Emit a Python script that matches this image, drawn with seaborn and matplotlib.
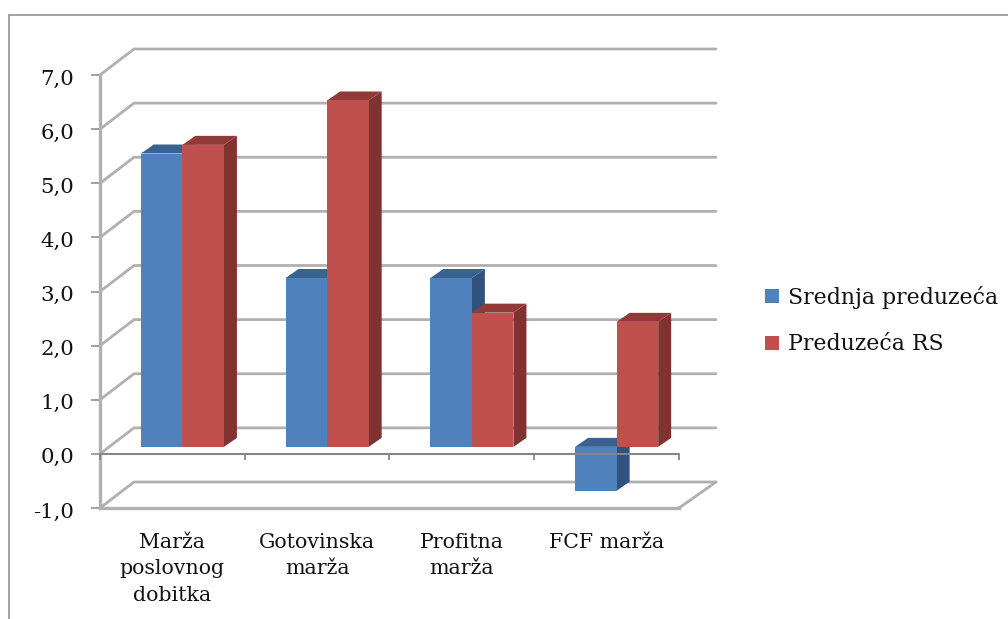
import matplotlib
matplotlib.use("Agg")
import matplotlib.pyplot as plt
import pandas as pd
import seaborn as sns
from matplotlib.lines import Line2D
from matplotlib.patches import Polygon
from matplotlib.transforms import Affine2D, offset_copy

categories = ["Marža\nposlovnog\ndobitka", "Gotovinska\nmarža", "Profitna\nmarža", "FCF marža"]
series_names = ["Srednja preduzeća", "Preduzeća RS"]
srednja = [5.42, 3.12, 3.12, -0.81]
preduzeca_rs = [5.58, 6.40, 2.48, 2.31]
y_ticks = [-1, 0, 1, 2, 3, 4, 5, 6, 7]
y_tick_labels = ["-1,0", "0,0", "1,0", "2,0", "3,0", "4,0", "5,0", "6,0", "7,0"]

W, H = 1008, 619
FONT = "DejaVu Serif"
sns.set_theme(style="white")
plt.rcParams["font.family"] = FONT

fig = plt.figure(figsize=(W / 100, H / 100), dpi=100, facecolor="white")
ax = fig.add_axes([100 / W, (H - 508) / H, 579 / W, 433 / H])

df = pd.DataFrame({
    "category": categories * 2,
    "value": srednja + preduzeca_rs,
    "series": [series_names[0]] * 4 + [series_names[1]] * 4,
})
palette = {series_names[0]: "#4F81BD", series_names[1]: "#C0504D"}
sns.barplot(data=df, x="category", y="value", hue="series", palette=palette,
            width=0.574, gap=0, saturation=1, ax=ax, linewidth=0, zorder=4)

ax.set_xlim(-0.5, 3.5)
ax.set_ylim(-1, 7)
px_x = 579 / 4
px_y = 433 / 8
GRID = "#b0b0b0"

# Back wall lines and floor
wall_dx, wall_dy = 34 / px_x, 26 / px_y
right_end = 3.5 + 37 / px_x
for v in y_ticks:
    ax.plot([-0.5, -0.5 + wall_dx, right_end], [v, v + wall_dy, v + wall_dy],
            color=GRID, lw=2.0, clip_on=False, zorder=1, solid_joinstyle="miter")
ax.plot([3.5, right_end], [-1, -1 + wall_dy], color=GRID, lw=2.0, clip_on=False, zorder=1)

# Bars in depth: front face shifted, side and top faces from each bar's own geometry
shift = offset_copy(ax.transData, fig=fig, x=10, y=7, units="dots")
side_cols = ["#30527E", "#7F3230"]
top_cols = ["#3A6291", "#913B38"]
depth_x, depth_y = 13 / px_x, 9 / px_y
for i, cont in enumerate(ax.containers):
    for p in cont.patches:
        p.set_transform(shift)
        p.set_clip_on(False)
        p.set_zorder(4 + 2 * i)
        x0, x1 = p.get_x(), p.get_x() + p.get_width()
        y0, y1 = sorted((p.get_y(), p.get_y() + p.get_height()))
        ax.add_patch(Polygon([(x1, y0), (x1 + depth_x, y0 + depth_y), (x1 + depth_x, y1 + depth_y), (x1, y1)],
                             closed=True, fc=side_cols[i], ec="none", transform=shift,
                             clip_on=False, zorder=3 + 2 * i))
        ax.add_patch(Polygon([(x0, y1), (x0 + depth_x, y1 + depth_y), (x1 + depth_x, y1 + depth_y), (x1, y1)],
                             closed=True, fc=top_cols[i], ec="none", transform=shift,
                             clip_on=False, zorder=3 + 2 * i))

# Zero axis with category ticks
AXC = "#868686"
ax.plot([-0.5, 3.5], [0, 0], color=AXC, lw=1.5, clip_on=False, zorder=8)
ax.vlines([-0.5, 0.5, 1.5, 2.5, 3.5], -6 / px_y, 0, color=AXC, lw=1.3, clip_on=False, zorder=8)

for s in ["top", "right"]:
    ax.spines[s].set_visible(False)
for s in ["left", "bottom"]:
    ax.spines[s].set_color(GRID)
    ax.spines[s].set_linewidth(2.4)
    ax.spines[s].set_zorder(2)

ax.set_xlabel("")
ax.set_ylabel("")
ax.set_yticks(y_ticks)
ax.set_yticklabels(y_tick_labels, fontsize=15.3, color="#111111", family=FONT)
ax.set_xticks(range(len(categories)))
ax.set_xticklabels(categories, fontsize=14.8, color="#111111", family=FONT, linespacing=1.5)
ax.tick_params(axis="y", left=True, length=6.5, width=1.1, color=AXC, pad=12)
ax.tick_params(axis="x", bottom=False, pad=12)
for t in ax.get_yticklabels():
    t.set_transform(t.get_transform() + Affine2D().translate(0, -2))

sns.move_legend(ax, "upper left", bbox_to_anchor=(765 / W, (H - 286) / H),
                bbox_transform=fig.transFigure, title=None, frameon=False,
                fontsize=15.8, handlelength=0.62, handleheight=0.62, handletextpad=0.45,
                labelspacing=1.11, borderpad=0, borderaxespad=0, labelcolor="#111111")

# Chart-area border, running off the image on the right and at the bottom
BORDER = "#9c9c9c"
fig.add_artist(Line2D([8.5 / W, 1], [(H - 14.5) / H, (H - 14.5) / H], color=BORDER, lw=1.3))
fig.add_artist(Line2D([8.5 / W, 8.5 / W], [0, (H - 14.5) / H], color=BORDER, lw=1.3))

fig.savefig("out.png", dpi=100, facecolor="white")
